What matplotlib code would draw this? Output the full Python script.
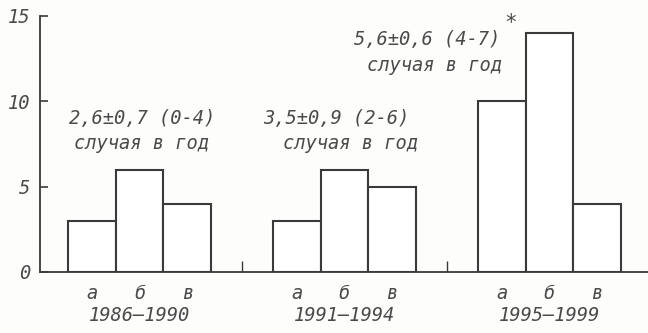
import matplotlib
matplotlib.use("Agg")
import matplotlib.pyplot as plt
import numpy as np

# Number of cases per sub-group (а, б, в) in each period
periods = ["1986–1990", "1991–1994", "1995–1999"]
subgroups = ["а", "б", "в"]
cases_a = [3, 3, 10]
cases_b = [6, 6, 14]
cases_v = [4, 5, 4]
summary = ["2,6±0,7 (0-4)", "3,5±0,9 (2-6)", "5,6±0,6 (4-7)"]
unit_text = "случая в год"
y_ticks = [0, 5, 10, 15]

ink = "#3a3a3a"
text_col = "#4a4a4a"
font = dict(family="DejaVu Sans Mono", style="oblique", size=13.5, color=text_col)

fig = plt.figure(figsize=(6.48, 3.33), dpi=100)
fig.patch.set_facecolor("#fdfdfc")
ax = fig.add_axes([0.0617, 0.1832, 0.9383, 0.7688])
ax.set_facecolor("none")

step = 4.3
values = np.array([cases_a, cases_b, cases_v]).T  # rows: periods
for g, row in enumerate(values):
    xs = g * step + np.arange(len(subgroups))
    ax.bar(xs, row, width=1.0, facecolor="white", edgecolor=ink,
           linewidth=1.5, zorder=3)
    for x, lab in zip(xs, subgroups):
        ax.text(x, -0.085, lab, transform=ax.get_xaxis_transform(),
                ha="center", va="center", **font)
    ax.text(g * step + 1, -0.17, periods[g], transform=ax.get_xaxis_transform(),
            ha="center", va="center", **font)

# group summaries
ann_pos = [((1.06, 9.0), (1.03, 7.55)),
           ((5.12, 9.0), (5.43, 7.55)),
           ((7.04, 13.65), (7.18, 12.1))]
for s, (p1, p2) in zip(summary, ann_pos):
    ax.text(p1[0], p1[1], s, ha="center", va="center", **font)
    ax.text(p2[0], p2[1], unit_text, ha="center", va="center", **font)
ax.text(8.79, 14.6, "*", ha="center", va="center",
        family="DejaVu Sans Mono", size=15, color=text_col)

ax.set_xlim(-1.09, 11.67)
ax.set_ylim(0, 15)
for s in ["top", "right"]:
    ax.spines[s].set_visible(False)
for s in ["left", "bottom"]:
    ax.spines[s].set_color(ink)
    ax.spines[s].set_linewidth(1.3)

ax.set_yticks(y_ticks)
ax.set_yticklabels([str(v) for v in y_ticks], fontdict=font)
ax.tick_params(axis="y", direction="in", length=5.5, width=1.2, color=ink, pad=7)

# small separators between periods
sep = [g * step + 2.5 + (step - 3) / 2 for g in range(len(periods) - 1)]
ax.set_xticks(sep)
ax.set_xticklabels([])
ax.tick_params(axis="x", direction="in", length=8, width=1.0, color=ink)

fig.savefig("out.png", dpi=100, facecolor=fig.get_facecolor())
